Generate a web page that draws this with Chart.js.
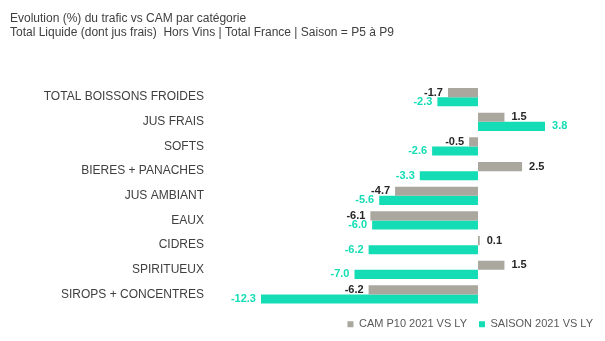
<!DOCTYPE html>
<html>
<head>
<meta charset="utf-8">
<script src="https://cdn.jsdelivr.net/npm/chart.js@4"></script>
<style>
  html, body { margin: 0; padding: 0; background: #fff; }
  #wrap { width: 605px; height: 341px; }
</style>
</head>
<body>
<div id="wrap"><canvas id="barChart" width="605" height="341"></canvas></div>
<script>
const categories = ['TOTAL BOISSONS FROIDES', 'JUS FRAIS', 'SOFTS', 'BIERES + PANACHES', 'JUS AMBIANT', 'EAUX', 'CIDRES', 'SPIRITUEUX', 'SIROPS + CONCENTRES'];
const camValues = [-1.7, 1.5, -0.5, 2.5, -4.7, -6.1, 0.1, 1.5, -6.2];
const saisonValues = [-2.3, 3.8, -2.6, -3.3, -5.6, -6.0, -6.2, -7.0, -12.3];

const greyColor = '#AAA79F';
const tealColor = '#14DDB5';

// draws the value next to the end of every bar
const barLabels = {
    id: 'barLabels',
    afterDatasetsDraw(chart) {
        const ctx = chart.ctx;
        ctx.save();
        ctx.font = 'bold 11px "Liberation Sans", Arial, sans-serif';
        ctx.textBaseline = 'middle';
        chart.data.datasets.forEach((ds, i) => {
            const meta = chart.getDatasetMeta(i);
            meta.data.forEach((bar, j) => {
                const v = ds.data[j];
                const txt = v.toFixed(1);
                ctx.fillStyle = ds.labelColor;
                if (v < 0) {
                    ctx.textAlign = 'right';
                    ctx.fillText(txt, bar.x - 5, bar.y);
                } else {
                    ctx.textAlign = 'left';
                    ctx.fillText(txt, bar.x + 7, bar.y);
                }
            });
        });
        ctx.restore();
    }
};

const config = {
    type: 'bar',
    data: {
        labels: categories,
        datasets: [
            {
                label: 'CAM P10 2021 VS LY',
                backgroundColor: greyColor,
                labelColor: '#262626',
                data: camValues
            },
            {
                label: 'SAISON 2021 VS LY',
                backgroundColor: tealColor,
                labelColor: tealColor,
                data: saisonValues
            }
        ]
    },
    options: {
        indexAxis: 'y',
        responsive: false,
        animation: false,
        maintainAspectRatio: false,
        datasets: {
            bar: { categoryPercentage: 0.74, barPercentage: 1.0 }
        },
        layout: { padding: { left: 10, right: 0, top: 5, bottom: 0 } },
        plugins: {
            title: {
                display: true,
                align: 'start',
                text: 'Evolution (%) du trafic vs CAM par catégorie',
                color: '#404040',
                font: { family: '"Liberation Sans", Arial, sans-serif', size: 12, weight: 'normal' },
                padding: { top: 6, bottom: 0 },
                fullSize: true
            },
            subtitle: {
                display: true,
                align: 'start',
                text: 'Total Liquide (dont jus frais)  Hors Vins | Total France | Saison = P5 à P9',
                color: '#404040',
                font: { family: '"Liberation Sans", Arial, sans-serif', size: 12 },
                padding: { top: 0, bottom: 45 }
            },
            legend: {
                display: true,
                position: 'bottom',
                align: 'end',
                labels: {
                    boxWidth: 6,
                    boxHeight: 6,
                    padding: 12,
                    color: '#595959',
                    font: { family: '"Liberation Sans", Arial, sans-serif', size: 11 }
                }
            },
            tooltip: { enabled: false }
        },
        scales: {
            x: {
                min: -14,
                max: 7.2,
                display: false,
                grid: { display: false }
            },
            y: {
                grid: { display: false, drawTicks: false },
                border: { display: false },
                ticks: {
                    padding: 27,
                    color: '#404040',
                    font: { family: '"Liberation Sans", Arial, sans-serif', size: 12 }
                },
                afterFit(scale) { scale.width = 221; }
            }
        }
    },
    plugins: [barLabels]
};

new Chart(document.getElementById('barChart').getContext('2d'), config);
</script>
</body>
</html>
